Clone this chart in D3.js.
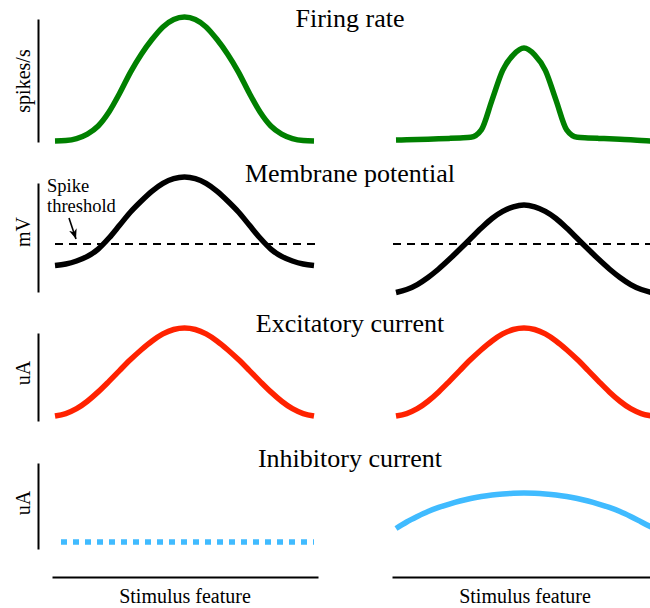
<!DOCTYPE html>
<html>
<head>
<meta charset="utf-8">
<script src="https://cdn.jsdelivr.net/npm/d3@7"></script>
<style>
  body { margin: 0; background: #fff; }
  svg { display: block; }
</style>
</head>
<body>
<svg id="chart" width="650" height="608"></svg>
<script>
// Stimulus feature axis (arbitrary units, preferred stimulus at 0)
const stimulus = [-12, -11, -10, -9, -8, -7, -6, -5, -4, -3, -2, -1, 0, 1, 2, 3, 4, 5, 6, 7, 8, 9, 10, 11, 12];

// Panel titles and y-axis labels
const rowTitles = ["Firing rate", "Membrane potential", "Excitatory current", "Inhibitory current"];
const rowUnits = ["spikes/s", "mV", "uA", "uA"];
const xLabel = "Stimulus feature";
const thresholdLabel = ["Spike", "threshold"];

// Normalised responses: left column = without inhibition, right = with broad inhibition
const firingLeft  = [0, 0.004, 0.02, 0.056, 0.121, 0.234, 0.387, 0.556, 0.70, 0.82, 0.92, 0.98, 1.0, 0.98, 0.92, 0.82, 0.70, 0.556, 0.387, 0.234, 0.121, 0.056, 0.02, 0.004, 0];
const firingRight = [0.008, 0.01, 0.012, 0.015, 0.018, 0.021, 0.025, 0.03, 0.09, 0.33, 0.57, 0.695, 0.75, 0.695, 0.57, 0.33, 0.09, 0.03, 0.025, 0.021, 0.018, 0.014, 0.01, 0.005, 0];

const vmLeft  = [0.237, 0.25, 0.276, 0.315, 0.379, 0.474, 0.586, 0.698, 0.793, 0.878, 0.945, 0.986, 1.0, 0.986, 0.945, 0.878, 0.793, 0.698, 0.586, 0.474, 0.379, 0.315, 0.276, 0.25, 0.237];
const vmRight = [0.004, 0.03, 0.073, 0.134, 0.207, 0.29, 0.379, 0.47, 0.56, 0.642, 0.703, 0.743, 0.759, 0.743, 0.703, 0.642, 0.56, 0.47, 0.379, 0.29, 0.207, 0.134, 0.073, 0.03, 0.004];
const spikeThreshold = 0.422;

const excLeft  = [0, 0.028, 0.083, 0.168, 0.274, 0.394, 0.519, 0.641, 0.753, 0.853, 0.933, 0.983, 1.0, 0.983, 0.933, 0.853, 0.753, 0.641, 0.519, 0.394, 0.274, 0.168, 0.083, 0.028, 0];
const excRight = [0, 0.028, 0.083, 0.168, 0.274, 0.394, 0.519, 0.641, 0.753, 0.853, 0.933, 0.983, 1.0, 0.983, 0.933, 0.853, 0.753, 0.641, 0.519, 0.394, 0.274, 0.168, 0.083, 0.028, 0];

const inhLeft  = [0.081, 0.081, 0.081, 0.081, 0.081, 0.081, 0.081, 0.081, 0.081, 0.081, 0.081, 0.081, 0.081, 0.081, 0.081, 0.081, 0.081, 0.081, 0.081, 0.081, 0.081, 0.081, 0.081, 0.081, 0.081];
const inhRight = [0.238, 0.314, 0.378, 0.436, 0.483, 0.523, 0.558, 0.587, 0.61, 0.628, 0.64, 0.648, 0.651, 0.648, 0.64, 0.628, 0.61, 0.587, 0.558, 0.523, 0.483, 0.436, 0.378, 0.314, 0.25];

// ---- layout ----
const serif = "'Liberation Serif', 'Times New Roman', Times, serif";
const svg = d3.select("#chart").attr("font-family", serif);

const columns = [
  { range: [55, 314], axis: [52, 318], labelX: 185 },
  { range: [396, 652], axis: [392, 652], labelX: 525 }
];
const rows = [
  { range: [141, 17],  axis: [142, 19],  titleY: 27,  unitY: 81 },
  { range: [293, 177], axis: [292, 183], titleY: 182, unitY: 232 },
  { range: [416, 328], axis: [421, 333], titleY: 332, unitY: 373 },
  { range: [549, 463], axis: [549, 463], titleY: 467, unitY: 503 }
];

const series = [
  { row: 0, col: 0, values: firingLeft,  color: "#008000" },
  { row: 0, col: 1, values: firingRight, color: "#008000" },
  { row: 1, col: 0, values: vmLeft,      color: "#000000" },
  { row: 1, col: 1, values: vmRight,     color: "#000000" },
  { row: 2, col: 0, values: excLeft,     color: "#ff2200" },
  { row: 2, col: 1, values: excRight,    color: "#ff2200" },
  { row: 3, col: 0, values: inhLeft,     color: "#40bbff", dash: "6,6", offset: 6 },
  { row: 3, col: 1, values: inhRight,    color: "#40bbff" }
];

const xScales = columns.map(c => d3.scaleLinear().domain(d3.extent(stimulus)).range(c.range));
const yScales = rows.map(r => d3.scaleLinear().domain([0, 1]).range(r.range));

function addText(sel) {
  return sel.append("text").attr("font-family", serif).attr("fill", "#000");
}

// Titles
rows.forEach((r, i) => {
  addText(svg)
    .attr("x", 350).attr("y", r.titleY)
    .attr("text-anchor", "middle")
    .attr("font-size", 26)
    .text(rowTitles[i]);
});

// Y axes (left column only) with rotated unit labels
rows.forEach((r, i) => {
  const axisScale = d3.scaleLinear().domain([0, 1]).range(r.axis);
  svg.append("g")
    .attr("transform", "translate(38,0)")
    .call(d3.axisLeft(axisScale).ticks(0).tickSizeOuter(0))
    .call(g => g.select(".domain").attr("stroke", "#000").attr("stroke-width", 2));
  addText(svg)
    .attr("transform", `translate(30,${r.unitY}) rotate(-90)`)
    .attr("text-anchor", "middle")
    .attr("font-size", 20)
    .text(rowUnits[i]);
});

// X axes under the bottom row
columns.forEach(c => {
  const axisScale = d3.scaleLinear().domain([0, 1]).range(c.axis);
  svg.append("g")
    .attr("transform", "translate(0,577)")
    .call(d3.axisBottom(axisScale).ticks(0).tickSizeOuter(0))
    .call(g => g.select(".domain").attr("stroke", "#000").attr("stroke-width", 2));
  addText(svg)
    .attr("x", c.labelX).attr("y", 603)
    .attr("text-anchor", "middle")
    .attr("font-size", 20)
    .text(xLabel);
});

// Spike threshold (dashed) in the membrane potential panels
columns.forEach((c, j) => {
  const y = yScales[1];
  svg.append("line")
    .attr("x1", c.axis[0] + (j === 0 ? 3 : 1)).attr("x2", c.axis[1])
    .attr("y1", y(spikeThreshold)).attr("y2", y(spikeThreshold))
    .attr("stroke", "#000").attr("stroke-width", 2)
    .attr("stroke-dasharray", "8,6");
});

// Response curves
series.forEach(s => {
  const x = xScales[s.col], y = yScales[s.row];
  const line = d3.line()
    .x((d, i) => x(stimulus[i]))
    .y(d => y(d))
    .curve(d3.curveMonotoneX);
  const p = svg.append("path")
    .datum(s.values)
    .attr("d", line)
    .attr("fill", "none")
    .attr("stroke", s.color)
    .attr("stroke-width", 5.5)
    .attr("stroke-linejoin", "round");
  if (s.dash) p.attr("stroke-dasharray", s.dash).attr("stroke-dashoffset", s.offset);
});

// "Spike threshold" annotation with arrow
svg.append("defs").append("marker")
  .attr("id", "arrowhead")
  .attr("viewBox", "0 0 10 10")
  .attr("refX", 10).attr("refY", 5)
  .attr("markerWidth", 10).attr("markerHeight", 10)
  .attr("markerUnits", "userSpaceOnUse")
  .attr("orient", "auto")
  .append("path").attr("d", "M0,1 L10,5 L0,9 L3,5 Z").attr("fill", "#000");

addText(svg).attr("x", 47).attr("y", 192).attr("font-size", 18.5).text(thresholdLabel[0]);
addText(svg).attr("x", 47).attr("y", 212).attr("font-size", 18.5).text(thresholdLabel[1]);

svg.append("line")
  .attr("x1", 69).attr("y1", 218)
  .attr("x2", 76).attr("y2", 239)
  .attr("stroke", "#000").attr("stroke-width", 1.6)
  .attr("marker-end", "url(#arrowhead)");
</script>
</body>
</html>
